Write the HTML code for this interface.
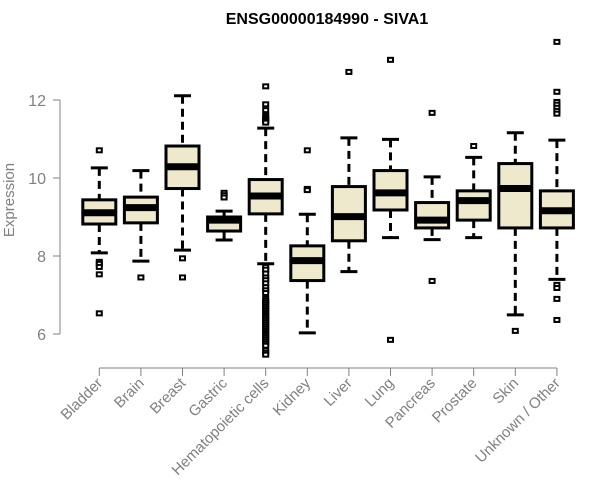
<!DOCTYPE html>
<html><head><meta charset="utf-8"><style>
body{margin:0;background:#fff;}
svg{display:block;font-family:"Liberation Sans",sans-serif;}
</style></head><body>
<svg id="chart" width="600" height="500">
<text x="327" y="24" text-anchor="middle" font-weight="bold" font-size="16" fill="#000">ENSG00000184990 - SIVA1</text>
<text transform="translate(14,200) rotate(-90)" text-anchor="middle" font-size="15" fill="#808080">Expression</text>
<g id="yaxis"></g>
<g id="xaxis"></g>
<g id="boxes"></g>
</svg>
<script>
const categories=["Bladder","Brain","Breast","Gastric","Hematopoietic cells","Kidney","Liver","Lung","Pancreas","Prostate","Skin","Unknown / Other"];
const whiskerHigh=[10.26,10.19,12.11,9.15,11.28,9.07,11.03,10.99,10.03,10.53,11.16,10.97];
const q3=[9.44,9.51,10.82,9.0,9.96,8.26,9.78,10.19,9.37,9.67,10.37,9.67];
const medians=[9.11,9.24,10.29,8.92,9.54,7.88,9.01,9.62,8.92,9.42,9.73,9.16];
const q1=[8.82,8.85,9.73,8.64,9.08,7.37,8.39,9.18,8.72,8.92,8.72,8.72];
const whiskerLow=[8.08,7.87,8.15,8.41,7.8,6.03,7.6,8.47,8.42,8.47,6.49,7.4];
const outliers=[
 [10.71,7.85,7.8,7.72,7.53,6.53],
 [7.45],
 [7.94,7.45],
 [9.62,9.56,9.5],
 [12.35,11.89,11.74,11.6,11.55,11.5,11.46,11.42,7.72,7.65,7.55,7.45,7.38,7.3,7.2,7.12,7.05,6.9,6.85,6.8,6.75,6.7,6.65,6.6,6.55,6.5,6.45,6.4,6.35,6.3,6.25,6.2,6.15,6.1,6.05,6.0,5.95,5.9,5.85,5.8,5.75,5.7,5.58,5.52,5.47],
 [10.71,9.72,9.69],
 [12.72],
 [13.03,5.85],
 [11.67,7.36],
 [10.82],
 [6.08],
 [13.49,12.21,11.95,11.88,11.8,11.72,11.65,7.26,7.18,6.9,6.36]
];
const yTicks=[6,8,10,12];
const NS="http://www.w3.org/2000/svg";
function y(v){return 334-(v-6)*39;}
function x(i){return 99.3+i*41.6;}
function mk(tag,attrs,parent){const e=document.createElementNS(NS,tag);for(const k in attrs)e.setAttribute(k,attrs[k]);parent.appendChild(e);return e;}
const ya=document.getElementById('yaxis'),xa=document.getElementById('xaxis'),bx=document.getElementById('boxes');
mk('line',{x1:60,x2:60,y1:y(yTicks[yTicks.length-1]),y2:y(yTicks[0]),stroke:'#808080','stroke-width':1},ya);
yTicks.forEach(t=>{
 mk('line',{x1:53,x2:60,y1:y(t),y2:y(t),stroke:'#808080'},ya);
 const tx=mk('text',{x:46,y:y(t)+6,'text-anchor':'end','font-size':16,fill:'#808080'},ya);
 tx.textContent=t;
 
 
});
mk('line',{x1:x(0),x2:x(categories.length-1),y1:368,y2:368,stroke:'#808080'},xa);
categories.forEach((c,i)=>{
 const cx=x(i);
 mk('line',{x1:cx,x2:cx,y1:368,y2:376,stroke:'#808080'},xa);
 const tx=mk('text',{x:cx+4,y:384,'text-anchor':'end','font-size':15,fill:'#808080',transform:`rotate(-45 ${cx+4} 384)`},xa);
 tx.textContent=c;
 
 
 const g=mk('g',{},bx);
 
 
 const hw=16.5;
 mk('line',{x1:cx,x2:cx,y1:y(whiskerHigh[i]),y2:y(q3[i]),stroke:'#000','stroke-width':3,'stroke-dasharray':'8,5'},g);
 mk('line',{x1:cx,x2:cx,y1:y(q1[i]),y2:y(whiskerLow[i]),stroke:'#000','stroke-width':3,'stroke-dasharray':'8,5'},g);
 mk('line',{x1:cx-8.5,x2:cx+8.5,y1:y(whiskerHigh[i]),y2:y(whiskerHigh[i]),stroke:'#000','stroke-width':3},g);
 mk('line',{x1:cx-8.5,x2:cx+8.5,y1:y(whiskerLow[i]),y2:y(whiskerLow[i]),stroke:'#000','stroke-width':3},g);
 mk('rect',{x:cx-hw,y:y(q3[i]),width:hw*2,height:y(q1[i])-y(q3[i]),fill:'#EEE8CD',stroke:'#000','stroke-width':3},g);
 mk('line',{x1:cx-hw,x2:cx+hw,y1:y(medians[i]),y2:y(medians[i]),stroke:'#000','stroke-width':7},g);
 outliers[i].forEach(v=>{
  const r=mk('rect',{x:cx-2.5,y:y(v)-2,width:5,height:4,fill:'#fff',stroke:'#000','stroke-width':2},g);
  
  
 });
});
</script>
</body></html>
